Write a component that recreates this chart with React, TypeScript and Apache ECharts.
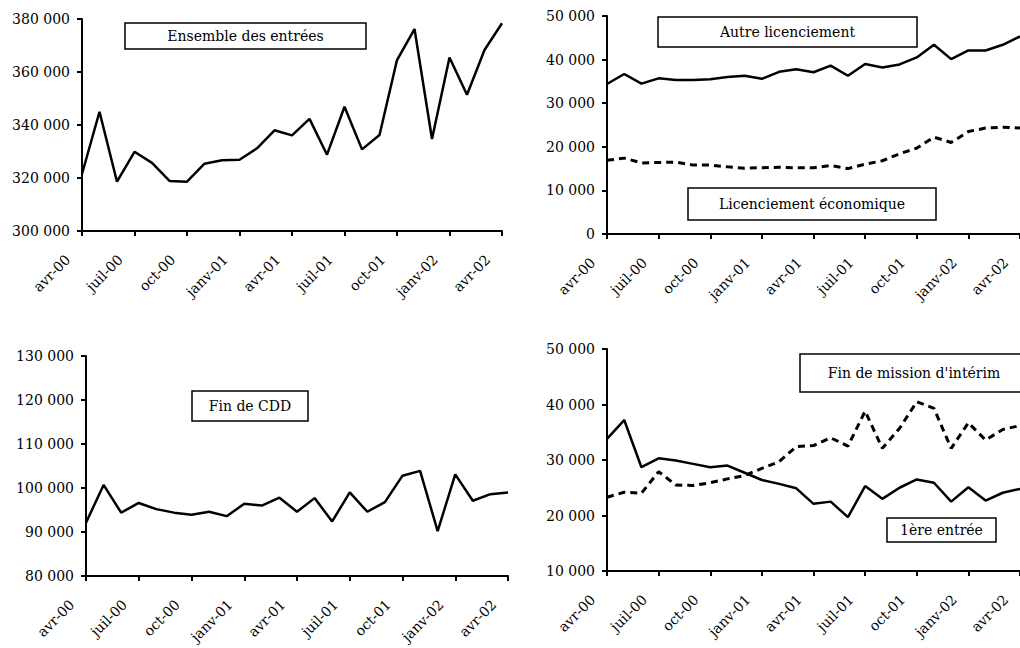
import React, { useEffect, useRef } from "react";
import * as echarts from "echarts";

const months = [
  "avr-00", "mai-00", "juin-00", "juil-00", "août-00", "sept-00", "oct-00", "nov-00", "déc-00",
  "janv-01", "févr-01", "mars-01", "avr-01", "mai-01", "juin-01", "juil-01", "août-01", "sept-01",
  "oct-01", "nov-01", "déc-01", "janv-02", "févr-02", "mars-02", "avr-02",
];

const ensembleEntrees = [
  321500, 345000, 318600, 329900, 325700, 318900, 318600, 325400, 326700, 326900, 331200, 338000,
  336100, 342300, 328800, 346900, 330800, 336200, 364500, 376200, 334700, 365500, 351400, 368300, 378400,
];
const autreLicenciement = [
  34400, 36700, 34500, 35700, 35300, 35300, 35500, 36000, 36300, 35600, 37200, 37800,
  37100, 38600, 36300, 39000, 38200, 38900, 40500, 43400, 40100, 42100, 42100, 43400, 45300,
];
const licenciementEconomique = [
  16900, 17400, 16300, 16400, 16500, 15800, 15800, 15400, 15100, 15200, 15300, 15200,
  15200, 15700, 15000, 16000, 16800, 18400, 19700, 22200, 21000, 23500, 24300, 24500, 24300,
];
const finDeCDD = [
  92100, 100700, 94400, 96600, 95200, 94400, 93900, 94600, 93600, 96400, 96000, 97800,
  94600, 97700, 92400, 99000, 94600, 96800, 102800, 103900, 90200, 103100, 97100, 98600, 99000,
];
const premiereEntree = [
  33800, 37200, 28700, 30300, 29900, 29300, 28700, 29000, 27700, 26400, 25700, 24900,
  22100, 22500, 19700, 25300, 23000, 25000, 26500, 25900, 22500, 25100, 22700, 24100, 24800,
];
const finMissionInterim = [
  23300, 24200, 24000, 27900, 25500, 25400, 25900, 26600, 27200, 28500, 29700, 32400,
  32600, 34000, 32500, 38800, 32100, 35700, 40500, 39300, 32100, 36700, 33600, 35500, 36200,
];

const FONT = "DejaVu Serif";
const fmt = (v: number) => String(v).replace(/\B(?=(\d{3})+(?!\d))/g, " ");

function xAxis(gridIndex: number) {
  return {
    type: "category",
    gridIndex,
    data: months,
    boundaryGap: false,
    axisLine: { show: true, onZero: false, lineStyle: { color: "#000", width: 2 } },
    axisTick: { show: true, interval: 2, length: 5, lineStyle: { color: "#000", width: 2 } },
    axisLabel: {
      interval: 2,
      rotate: 45,
      margin: 12,
      padding: [0, 20, 0, 0],
      color: "#000",
      fontFamily: FONT,
      fontSize: 14,
      hideOverlap: false,
    },
    splitLine: { show: false },
  };
}

function yAxis(gridIndex: number, min: number, max: number, interval: number) {
  return {
    type: "value",
    gridIndex,
    min,
    max,
    interval,
    axisLine: { show: true, lineStyle: { color: "#000", width: 2 } },
    axisTick: { show: true, length: 5, lineStyle: { color: "#000", width: 2 } },
    axisLabel: { color: "#000", fontFamily: FONT, fontSize: 14, margin: 12, formatter: fmt },
    splitLine: { show: false },
  };
}

function line(idx: number, data: number[], dashed: boolean) {
  return {
    type: "line",
    xAxisIndex: idx,
    yAxisIndex: idx,
    data,
    symbol: "none",
    silent: true,
    lineStyle: { color: "#000", width: dashed ? 3 : 2.5, type: dashed ? [7, 5] : "solid" },
  };
}

function box(x: number, y: number, w: number, h: number, text: string) {
  return {
    type: "group",
    z: 100,
    children: [
      {
        type: "rect",
        shape: { x, y, width: w, height: h },
        style: { fill: "#fff", stroke: "#000", lineWidth: 1.5 },
      },
      {
        type: "text",
        style: {
          text,
          x: x + w / 2,
          y: y + h / 2,
          align: "center",
          verticalAlign: "middle",
          fill: "#000",
          fontFamily: FONT,
          fontSize: 14,
        },
      },
    ],
  };
}

export default function App() {
  const ref = useRef<HTMLDivElement>(null);
  useEffect(() => {
    const chart = echarts.init(ref.current!, null, { renderer: "svg" });
    chart.setOption({
      animation: false,
      backgroundColor: "#fff",
      grid: [
        { left: 82, top: 19, width: 420, height: 212 },
        { left: 607, top: 16, width: 416, height: 218 },
        { left: 86, top: 356, width: 422, height: 220 },
        { left: 607, top: 349, width: 420, height: 222 },
      ],
      xAxis: [xAxis(0), xAxis(1), xAxis(2), xAxis(3)],
      yAxis: [
        yAxis(0, 300000, 380000, 20000),
        yAxis(1, 0, 50000, 10000),
        yAxis(2, 80000, 130000, 10000),
        yAxis(3, 10000, 50000, 10000),
      ],
      series: [
        line(0, ensembleEntrees, false),
        line(1, autreLicenciement, false),
        line(1, licenciementEconomique, true),
        line(2, finDeCDD, false),
        line(3, premiereEntree, false),
        line(3, finMissionInterim, true),
      ],
      graphic: [
        box(125, 23, 241, 26, "Ensemble des entrées"),
        box(658, 17, 259, 30, "Autre licenciement"),
        box(688, 188, 248, 32, "Licenciement économique"),
        box(192, 391, 116, 30, "Fin de CDD"),
        box(800, 354, 228, 38, "Fin de mission d'intérim"),
        box(887, 518, 109, 24, "1ère entrée"),
      ],
    });
    return () => chart.dispose();
  }, []);
  return (
    <div
      ref={ref}
      style={{ position: "absolute", left: 0, top: 0, width: 1020, height: 648, background: "#fff" }}
    />
  );
}
